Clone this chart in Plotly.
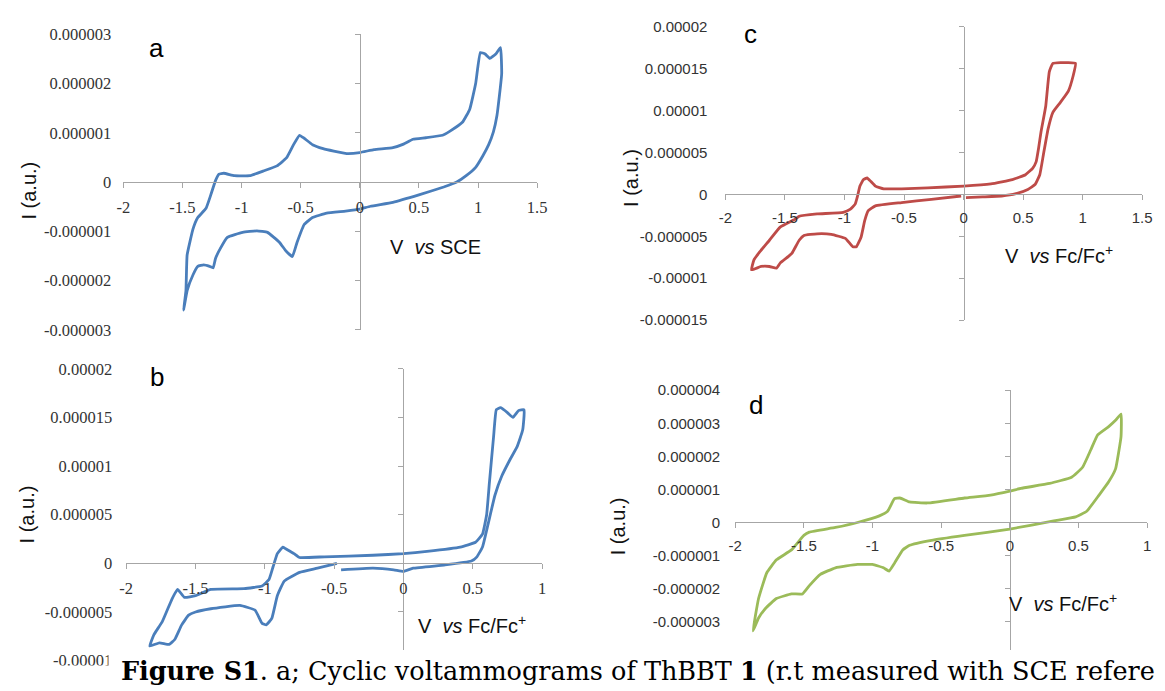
import plotly.graph_objects as go

W, H = 1165, 691

# ---------------- data (V, current in A) ----------------
# panel a : V vs SCE
a_v = [-1.49, -1.47, -1.46, -1.41, -1.37, -1.30, -1.26, -1.22, -1.19, -1.15, -1.06, -0.93, -0.81, -0.70,
       -0.62, -0.56, -0.51, -0.47, -0.40, -0.31, -0.22, -0.11, 0.00, 0.12, 0.28, 0.37, 0.45, 0.56, 0.70,
       0.76, 0.87, 0.93, 0.98, 1.02, 1.06, 1.10, 1.15, 1.19, 1.20, 1.16, 1.13, 1.09, 1.04, 0.98, 0.90,
       0.82, 0.71, 0.50, 0.28, 0.09, 0.00, -0.12, -0.28, -0.40, -0.47, -0.53, -0.57, -0.62, -0.68, -0.78,
       -0.87, -0.99, -1.12, -1.18, -1.22, -1.24, -1.27, -1.32, -1.37, -1.41, -1.46, -1.49]
a_i = [-2.60e-6, -2.20e-6, -1.48e-6, -0.95e-6, -0.72e-6, -0.53e-6, -0.26e-6, 0.03e-6, 0.16e-6, 0.18e-6,
       0.13e-6, 0.13e-6, 0.23e-6, 0.33e-6, 0.49e-6, 0.76e-6, 0.95e-6, 0.89e-6, 0.76e-6, 0.68e-6, 0.63e-6,
       0.58e-6, 0.60e-6, 0.66e-6, 0.70e-6, 0.77e-6, 0.87e-6, 0.90e-6, 0.95e-6, 1.03e-6, 1.22e-6, 1.48e-6,
       2.00e-6, 2.63e-6, 2.60e-6, 2.51e-6, 2.60e-6, 2.73e-6, 2.20e-6, 1.35e-6, 1.02e-6, 0.76e-6, 0.53e-6,
       0.30e-6, 0.13e-6, 0.00e-6, -0.10e-6, -0.26e-6, -0.41e-6, -0.49e-6, -0.55e-6, -0.59e-6, -0.63e-6,
       -0.72e-6, -0.86e-6, -1.22e-6, -1.51e-6, -1.41e-6, -1.22e-6, -1.02e-6, -0.99e-6, -1.02e-6, -1.12e-6,
       -1.35e-6, -1.55e-6, -1.74e-6, -1.71e-6, -1.68e-6, -1.71e-6, -1.88e-6, -2.20e-6, -2.60e-6]

# panel b : V vs Fc/Fc+
b_v = [-0.45, -0.22, -0.07, 0.00, 0.07, 0.30, 0.49, 0.53, 0.57, 0.61, 0.66, 0.71, 0.77, 0.82, 0.86, 0.87,
       0.83, 0.79, 0.75, 0.70, 0.67, 0.65, 0.62, 0.60, 0.57, 0.52, 0.41, 0.17, 0.00, -0.22, -0.57, -0.75,
       -0.79, -0.85, -0.87, -0.91, -0.94, -0.97, -1.02, -1.15, -1.39, -1.50, -1.58, -1.63, -1.67, -1.74,
       -1.80, -1.83, -1.76, -1.69, -1.65, -1.60, -1.55, -1.50, -1.39, -1.18, -1.07, -1.02, -0.99, -0.95,
       -0.91, -0.86, -0.75, -0.62, -0.48]
b_i = [-0.67e-6, -0.50e-6, -0.67e-6, -0.83e-6, -0.50e-6, -0.17e-6, 0.23e-6, 0.67e-6, 1.67e-6, 4.0e-6,
       7.0e-6, 9.0e-6, 10.7e-6, 12.0e-6, 13.7e-6, 15.8e-6, 15.7e-6, 15.0e-6, 15.5e-6, 16.0e-6, 15.8e-6,
       13.0e-6, 8.3e-6, 5.0e-6, 3.0e-6, 2.17e-6, 1.67e-6, 1.23e-6, 1.00e-6, 0.83e-6, 0.67e-6, 0.60e-6,
       1.00e-6, 1.50e-6, 1.67e-6, 1.00e-6, -0.33e-6, -1.67e-6, -2.33e-6, -2.60e-6, -2.67e-6, -3.33e-6,
       -3.50e-6, -2.67e-6, -3.67e-6, -6.00e-6, -7.33e-6, -8.50e-6, -8.17e-6, -8.33e-6, -7.83e-6, -6.33e-6,
       -5.33e-6, -5.00e-6, -4.67e-6, -4.33e-6, -4.83e-6, -6.17e-6, -6.33e-6, -5.67e-6, -3.33e-6, -1.83e-6,
       -0.93e-6, -0.50e-6, 0.00e-6]

# panel c : V vs Fc/Fc+
c_v = [0.02, 0.16, 0.32, 0.44, 0.54, 0.60, 0.64, 0.67, 0.71, 0.75, 0.81, 0.88, 0.92, 0.94, 0.88, 0.75,
       0.72, 0.69, 0.65, 0.63, 0.61, 0.58, 0.52, 0.41, 0.23, 0.00, -0.30, -0.52, -0.67, -0.74, -0.78,
       -0.81, -0.84, -0.87, -0.89, -0.91, -0.95, -1.01, -1.23, -1.38, -1.41, -1.54, -1.63, -1.71, -1.76,
       -1.78, -1.70, -1.63, -1.57, -1.54, -1.47, -1.44, -1.38, -1.34, -1.23, -1.11, -0.99, -0.93, -0.90,
       -0.86, -0.83, -0.80, -0.74, -0.52, -0.27, -0.02]
c_i = [-0.39e-6, -0.31e-6, -0.20e-6, 0.08e-6, 0.59e-6, 1.17e-6, 2.34e-6, 4.69e-6, 7.80e-6, 9.77e-6,
       10.9e-6, 12.3e-6, 14.1e-6, 15.6e-6, 15.7e-6, 15.6e-6, 14.6e-6, 10.5e-6, 7.4e-6, 5.5e-6, 3.9e-6,
       3.1e-6, 2.34e-6, 1.76e-6, 1.25e-6, 0.98e-6, 0.78e-6, 0.66e-6, 0.66e-6, 0.98e-6, 1.56e-6, 1.95e-6,
       1.76e-6, 0.98e-6, -0.20e-6, -1.17e-6, -1.76e-6, -2.15e-6, -2.34e-6, -2.62e-6, -2.93e-6, -3.90e-6,
       -5.47e-6, -6.84e-6, -7.80e-6, -9.00e-6, -8.60e-6, -8.60e-6, -8.80e-6, -8.20e-6, -7.40e-6, -7.00e-6,
       -5.47e-6, -4.90e-6, -4.70e-6, -4.77e-6, -5.27e-6, -6.25e-6, -6.25e-6, -5.08e-6, -3.13e-6, -1.95e-6,
       -1.37e-6, -0.98e-6, -0.59e-6, -0.20e-6]

# panel d : V vs Fc/Fc+
d_v = [-1.87, -1.83, -1.77, -1.70, -1.59, -1.50, -1.46, -1.27, -1.11, -0.95, -0.89, -0.84, -0.80, -0.73,
       -0.60, -0.33, -0.14, 0.00, 0.08, 0.29, 0.45, 0.53, 0.59, 0.64, 0.72, 0.77, 0.81, 0.81, 0.77, 0.72,
       0.65, 0.56, 0.48, 0.32, 0.00, -0.33, -0.57, -0.73, -0.78, -0.84, -0.88, -0.92, -1.00, -1.11, -1.27,
       -1.38, -1.46, -1.51, -1.59, -1.70, -1.78, -1.83, -1.87]
d_i = [-3.28e-6, -2.30e-6, -1.52e-6, -1.13e-6, -0.83e-6, -0.39e-6, -0.29e-6, -0.15e-6, 0.00e-6, 0.20e-6,
       0.34e-6, 0.72e-6, 0.74e-6, 0.62e-6, 0.59e-6, 0.74e-6, 0.83e-6, 0.95e-6, 1.03e-6, 1.18e-6, 1.37e-6,
       1.67e-6, 2.20e-6, 2.65e-6, 2.90e-6, 3.09e-6, 3.28e-6, 2.60e-6, 1.62e-6, 1.23e-6, 0.83e-6, 0.34e-6,
       0.17e-6, 0.05e-6, -0.20e-6, -0.39e-6, -0.54e-6, -0.69e-6, -0.83e-6, -1.23e-6, -1.47e-6, -1.37e-6,
       -1.27e-6, -1.27e-6, -1.37e-6, -1.57e-6, -1.91e-6, -2.16e-6, -2.16e-6, -2.30e-6, -2.60e-6, -2.89e-6,
       -3.28e-6]

# ---------------- ticks ----------------
xt_a = [-2, -1.5, -1, -0.5, 0, 0.5, 1, 1.5]
xl_a = ["-2", "-1.5", "-1", "-0.5", "0", "0.5", "1", "1.5"]
xt_b = [-2, -1.5, -1, -0.5, 0, 0.5, 1]
xl_b = ["-2", "-1.5", "-1", "-0.5", "0", "0.5", "1"]
xt_c = xt_a
xl_c = xl_a
xt_d = xt_b
xl_d = xl_b

yt_a = [-3e-6, -2e-6, -1e-6, 0, 1e-6, 2e-6, 3e-6]
yl_a = ["-0.000003", "-0.000002", "-0.000001", "0", "0.000001", "0.000002", "0.000003"]
yt_b = [-1e-5, -5e-6, 0, 5e-6, 1e-5, 1.5e-5, 2e-5]
yl_b = ["-0.00001", "-0.000005", "0", "0.000005", "0.00001", "0.000015", "0.00002"]
yt_c = [-1.5e-5, -1e-5, -5e-6, 0, 5e-6, 1e-5, 1.5e-5, 2e-5]
yl_c = ["-0.000015", "-0.00001", "-0.000005", "0", "0.000005", "0.00001", "0.000015", "0.00002"]
yt_d = [-4e-6, -3e-6, -2e-6, -1e-6, 0, 1e-6, 2e-6, 3e-6, 4e-6]
yl_d = ["-0.000004", "-0.000003", "-0.000002", "-0.000001", "0", "0.000001", "0.000002", "0.000003",
        "0.000004"]

# ---------------- layout geometry (pixels) ----------------
panels = [
    dict(key="a", v=a_v, i=a_i, xt=xt_a, xl=xl_a, yt=yt_a, yl=yl_a, color="#4a7ebb",
         px=(118, 538), py=(26, 330), font="Liberation Serif", fsize=16.5, ystand=11,
         title_xy=(152, 40), ylab_xy=(22, 187), vlab_xy=(435, 245), vlab="V  <i>vs</i> SCE"),
    dict(key="b", v=b_v, i=b_i, xt=xt_b, xl=xl_b, yt=yt_b, yl=yl_b, color="#4a7ebb",
         px=(121, 543), py=(370, 670), font="Liberation Serif", fsize=16.5, ystand=13,
         title_xy=(152, 378), ylab_xy=(20, 520), vlab_xy=(472, 633),
         vlab="V  <i>vs</i> Fc/Fc<sup>+</sup>"),
    dict(key="c", v=c_v, i=c_i, xt=xt_c, xl=xl_c, yt=yt_c, yl=yl_c, color="#be4b48",
         px=(729, 1152), py=(18, 320), font="Liberation Sans", fsize=15, ystand=17,
         title_xy=(755, 26), ylab_xy=(633, 174), vlab_xy=(1068, 252),
         vlab="V  <i>vs</i> Fc/Fc<sup>+</sup>"),
    dict(key="d", v=d_v, i=d_i, xt=xt_d, xl=xl_d, yt=yt_d, yl=yl_d, color="#9bbb59",
         px=(739, 1157), py=(392, 664), font="Liberation Sans", fsize=15, ystand=14,
         title_xy=(760, 407), ylab_xy=(620, 532), vlab_xy=(1072, 610),
         vlab="V  <i>vs</i> Fc/Fc<sup>+</sup>"),
]

AXC = "#a6a6a6"


def fx(p):
    return p / W


def fy(p):
    return 1 - p / H


fig = go.Figure()
annotations = []
layout = {}

for n, p in enumerate(panels, start=1):
    xr = [min(p["xt"]), max(p["xt"])]
    yr = [min(p["yt"]), max(p["yt"])]
    xd = [fx(p["px"][0]), fx(p["px"][1])]
    yd = [fy(p["py"][1]), fy(p["py"][0])]
    x0pos = xd[0] + (0 - xr[0]) / (xr[1] - xr[0]) * (xd[1] - xd[0])
    y0pos = yd[0] + (0 - yr[0]) / (yr[1] - yr[0]) * (yd[1] - yd[0])
    sfx = "" if n == 1 else str(n)
    tf = dict(family=p["font"], size=p["fsize"], color="#333333")

    fig.add_trace(go.Scatter(x=p["v"], y=p["i"], mode="lines",
                             line=dict(color=p["color"], width=2.8, shape="spline", smoothing=0.35),
                             xaxis="x" + sfx, yaxis="y" + sfx, showlegend=False, hoverinfo="skip"))
    # invisible companion trace so the label axis (left side) gets drawn
    fig.add_trace(go.Scatter(x=p["v"], y=p["i"], mode="lines", opacity=0,
                             line=dict(color=p["color"], width=0),
                             xaxis="x" + sfx, yaxis="y" + str(n + 4), showlegend=False, hoverinfo="skip"))

    layout["xaxis" + sfx] = dict(domain=xd, range=xr, anchor="free", position=y0pos,
                                 showline=True, linecolor=AXC, linewidth=1,
                                 ticks="outside", ticklen=5, tickcolor=AXC,
                                 tickvals=p["xt"], ticktext=p["xl"], tickfont=tf,
                                 ticklabelstandoff=5,
                                 showgrid=False, zeroline=False, fixedrange=True)
    layout["yaxis" + sfx] = dict(domain=yd, range=yr, anchor="free", position=x0pos,
                                 showline=True, linecolor=AXC, linewidth=1,
                                 ticks="outside", ticklen=5, tickcolor=AXC,
                                 tickvals=p["yt"], showticklabels=False,
                                 showgrid=False, zeroline=False, fixedrange=True)
    layout["yaxis" + str(n + 4)] = dict(overlaying="y" + sfx, anchor="x" + sfx, side="left",
                                        range=yr, autorange=False,
                                        tickvals=p["yt"], ticktext=p["yl"], tickfont=tf,
                                        showticklabels=True,
                                        ticks="", showline=False, showgrid=False, zeroline=False,
                                        ticklabelstandoff=p["ystand"], fixedrange=True)

    annotations.append(dict(text=p["key"], x=fx(p["title_xy"][0]), y=fy(p["title_xy"][1]),
                            xref="paper", yref="paper", showarrow=False,
                            xanchor="center", yanchor="middle",
                            font=dict(family="Liberation Sans", size=26, color="#000000")))
    annotations.append(dict(text="I (a.u.)", x=fx(p["ylab_xy"][0]), y=fy(p["ylab_xy"][1]),
                            xref="paper", yref="paper", showarrow=False, textangle=-90,
                            xanchor="center", yanchor="middle",
                            font=dict(family="Liberation Sans", size=20, color="#111111")))
    annotations.append(dict(text=p["vlab"], x=fx(p["vlab_xy"][0]), y=fy(p["vlab_xy"][1]),
                            xref="paper", yref="paper", showarrow=False,
                            xanchor="center", yanchor="middle",
                            font=dict(family="Liberation Sans", size=20, color="#111111")))

# caption
annotations.append(dict(text="<b>Figure S1</b>. a; Cyclic voltammograms of ThBBT <b>1</b> (r.t measured with SCE refere",
                        x=fx(114), y=fy(681), xref="paper", yref="paper", showarrow=False,
                        xanchor="left", yanchor="middle",
                        font=dict(family="DejaVu Serif", size=25.5, color="#000000")))

shapes = [
    dict(type="rect", xref="paper", yref="paper", x0=fx(103), x1=1, y0=0, y1=fy(659),
         fillcolor="white", line=dict(width=0), layer="above"),
    dict(type="rect", xref="paper", yref="paper", x0=0, x1=1, y0=0, y1=fy(675),
         fillcolor="white", line=dict(width=0), layer="above"),
]

fig.update_layout(width=W, height=H, margin=dict(l=0, r=0, t=0, b=0),
                  paper_bgcolor="white", plot_bgcolor="white",
                  annotations=annotations, shapes=shapes, **layout)

fig.write_html("out.html", config={"displayModeBar": False},
               post_script="document.body.style.margin='0';")
